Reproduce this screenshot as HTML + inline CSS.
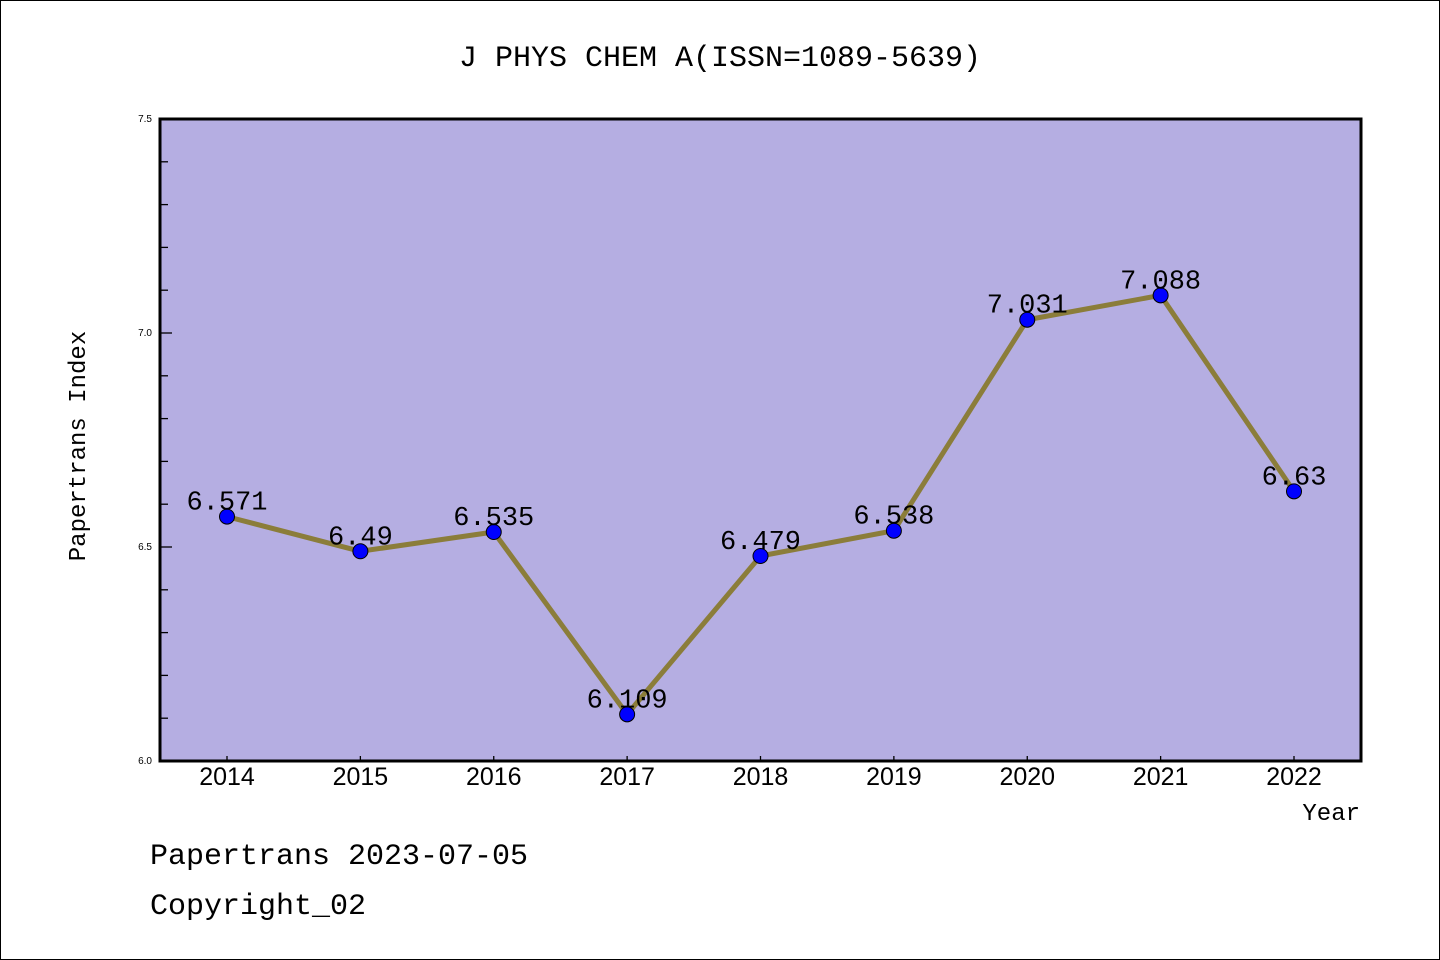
<!DOCTYPE html>
<html><head><meta charset="utf-8"><style>
html,body{margin:0;padding:0;background:#fff}
svg{display:block}
text{font-family:"Liberation Mono","WenQuanYi Zen Hei",monospace}
.sans{font-family:"Liberation Sans","DejaVu Sans",sans-serif}
</style></head><body>
<svg id="c" width="1440" height="960" xmlns="http://www.w3.org/2000/svg">
<rect x="0.5" y="0.5" width="1439" height="959" fill="#fff" stroke="#000"/>
<text x="720" y="66" font-size="30" text-anchor="middle">J PHYS CHEM A(ISSN=1089-5639)</text>
<rect x="160" y="119" width="1201" height="642" fill="#b5aee2"/>
<g id="axes"></g>
<g id="marks"></g>
<rect x="160" y="119" width="1201" height="642" fill="none" stroke="#000" stroke-width="3"/>
<text x="85" y="446" font-size="24" text-anchor="middle" transform="rotate(-90 85 446)">Papertrans Index</text>
<text x="1360" y="820" font-size="24" text-anchor="end">Year</text>
<text x="150" y="864" font-size="30">Papertrans 2023-07-05</text>
<text x="150" y="914" font-size="30">Copyright_02</text>
</svg>
<script>
const years = ["2014","2015","2016","2017","2018","2019","2020","2021","2022"];
const values = [6.571,6.49,6.535,6.109,6.479,6.538,7.031,7.088,6.63];
const valueLabels = ["6.571","6.49","6.535","6.109","6.479","6.538","7.031","7.088","6.63"];
const yTicks = ["6.0","6.5","7.0","7.5"];
const NS="http://www.w3.org/2000/svg";
const x0=160,x1=1361,y0=761,y1=119,ymin=6.0,ymax=7.5;
function xs(i){return 227+i*(1294-227)/(years.length-1);}
function ys(v){return y0-(v-ymin)/(ymax-ymin)*(y0-y1);}
function mk(tag,attrs,parent){const e=document.createElementNS(NS,tag);for(const k in attrs)e.setAttribute(k,attrs[k]);parent.appendChild(e);return e;}
const axes=document.getElementById('axes'),marks=document.getElementById('marks');
for(let k=0;k<=15;k++){
  const v=ymin+k*0.1,y=ys(v),major=k%5===0;
  const t=mk('line',{x1:x0,x2:x0+(major?12:8),y1:y,y2:y,stroke:'#000','stroke-width':1.3},axes);
  
  
}
yTicks.forEach(s=>{
  const t=mk('text',{x:x0-8,y:ys(parseFloat(s))+3,'font-size':10,'text-anchor':'end','class':'sans'},axes);
  t.textContent=s;
  
  
});
years.forEach((yr,i)=>{
  const t=mk('line',{x1:xs(i),x2:xs(i),y1:y0,y2:y0-5,stroke:'#000','stroke-width':1.3},axes);
  
  
  const l=mk('text',{x:xs(i),y:785,'font-size':25,'text-anchor':'middle','class':'sans'},axes);
  l.textContent=yr;
  
  
});
const pts=values.map((v,i)=>xs(i)+','+ys(v)).join(' ');
const line=mk('polyline',{points:pts,fill:'none',stroke:'#8b7d3a','stroke-width':5,'stroke-linejoin':'round'},marks);


values.forEach((v,i)=>{
  const c=mk('circle',{cx:xs(i),cy:ys(v),r:7.5,fill:'#0000ff',stroke:'#000','stroke-width':1},marks);
  
  
  const t=mk('text',{x:xs(i),y:ys(v)-7,'font-size':27,'text-anchor':'middle'},marks);
  t.textContent=valueLabels[i];
  
  
});
</script>
</body></html>
